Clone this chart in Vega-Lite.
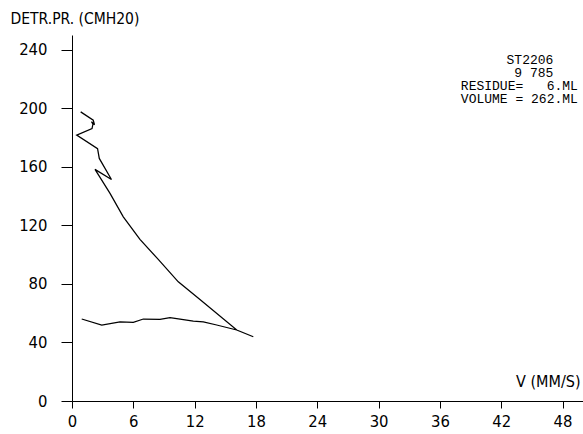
{
  "$schema": "https://vega.github.io/schema/vega-lite/v6.json",
  "width": 511,
  "height": 366,
  "autosize": {"type": "none"},
  "padding": {"left": 72, "top": 35, "right": 0, "bottom": 33},
  "background": "white",
  "config": {
    "view": {"stroke": null},
    "font": "Liberation Sans Narrow, DejaVu Sans Condensed, Liberation Sans",
    "text": {"font": "Liberation Mono", "fontSize": 13, "baseline": "alphabetic", "color": "black"},
    "axis": {
      "grid": false,
      "domainColor": "black",
      "domainWidth": 1,
      "tickColor": "black",
      "tickWidth": 1,
      "labelColor": "black",
      "titleColor": "black",
      "labelFont": "Liberation Sans Narrow, DejaVu Sans Condensed, Liberation Sans",
      "titleFont": "Liberation Sans Narrow, DejaVu Sans Condensed, Liberation Sans",
      "labelFontSize": 16.5,
      "titleFontSize": 15.5,
      "titleFontWeight": "normal"
    }
  },
  "datasets": {
    "curve": [
      {"i": 1, "v": 0.85, "p": 197.5},
      {"i": 2, "v": 2.08, "p": 191.8},
      {"i": 3, "v": 2.2, "p": 188.7},
      {"i": 4, "v": 1.91, "p": 190.8},
      {"i": 5, "v": 2.05, "p": 189.1},
      {"i": 6, "v": 1.96, "p": 186.1},
      {"i": 7, "v": 0.46, "p": 181.6},
      {"i": 8, "v": 2.5, "p": 172.4},
      {"i": 9, "v": 2.67, "p": 165.7},
      {"i": 10, "v": 3.86, "p": 151.3},
      {"i": 11, "v": 2.25, "p": 158.2},
      {"i": 12, "v": 3.72, "p": 141.8},
      {"i": 13, "v": 5.02, "p": 125.8},
      {"i": 14, "v": 6.65, "p": 110.4},
      {"i": 15, "v": 8.44, "p": 96.7},
      {"i": 16, "v": 10.4, "p": 81.4},
      {"i": 17, "v": 12.52, "p": 69.4},
      {"i": 18, "v": 16.12, "p": 48.5},
      {"i": 19, "v": 17.74, "p": 43.9},
      {"i": 20, "v": 16.12, "p": 48.5},
      {"i": 21, "v": 14.16, "p": 51.9},
      {"i": 22, "v": 12.85, "p": 54.1},
      {"i": 23, "v": 11.87, "p": 54.6},
      {"i": 24, "v": 10.57, "p": 56.0},
      {"i": 25, "v": 9.59, "p": 56.9},
      {"i": 26, "v": 8.61, "p": 55.8},
      {"i": 27, "v": 6.98, "p": 56.0},
      {"i": 28, "v": 6.0, "p": 53.7},
      {"i": 29, "v": 4.7, "p": 54.1},
      {"i": 30, "v": 2.91, "p": 51.9},
      {"i": 31, "v": 0.95, "p": 56.0}
    ],
    "one": [{}]
  },
  "layer": [
    {
      "data": {"name": "curve"},
      "mark": {"type": "line", "color": "black", "strokeWidth": 1.25, "clip": false},
      "encoding": {
        "x": {
          "field": "v",
          "type": "quantitative",
          "scale": {"domain": [0, 50], "nice": false, "zero": true},
          "axis": {
            "values": [0, 6, 12, 18, 24, 30, 36, 42, 48],
            "tickSize": 7,
            "labelPadding": 5,
            "labelDx": 3,
            "labelFlush": false,
            "title": "V (MM/S)",
            "titleFontSize": 16,
            "titleAlign": "right",
            "titleAnchor": null,
            "titleX": 508,
            "titleY": -20,
            "titleBaseline": "middle"
          }
        },
        "y": {
          "field": "p",
          "type": "quantitative",
          "scale": {"domain": [0, 250], "nice": false},
          "axis": {
            "values": [0, 40, 80, 120, 160, 200, 240],
            "tickSize": 11,
            "labelPadding": 14,
            "labelFlush": false,
            "title": "DETR.PR. (CMH20)",
            "titleAngle": 0,
            "titleAlign": "left",
            "titleAnchor": null,
            "titleX": -62,
            "titleY": -17,
            "titleBaseline": "middle"
          }
        },
        "order": {"field": "i", "type": "quantitative"}
      }
    },
    {
      "data": {"name": "one"},
      "mark": {"type": "text", "text": "ST2206", "align": "right"},
      "encoding": {"x": {"datum": 47.1}, "y": {"datum": 230.5}}
    },
    {
      "data": {"name": "one"},
      "mark": {"type": "text", "text": "9\u00a0785", "align": "right"},
      "encoding": {"x": {"datum": 47.1}, "y": {"datum": 221.5}}
    },
    {
      "data": {"name": "one"},
      "mark": {"type": "text", "text": "RESIDUE=\u00a0\u00a0\u00a06.ML", "align": "right"},
      "encoding": {"x": {"datum": 49.5}, "y": {"datum": 212.5}}
    },
    {
      "data": {"name": "one"},
      "mark": {"type": "text", "text": "VOLUME\u00a0=\u00a0262.ML", "align": "right"},
      "encoding": {"x": {"datum": 49.5}, "y": {"datum": 203.5}}
    }
  ]
}
